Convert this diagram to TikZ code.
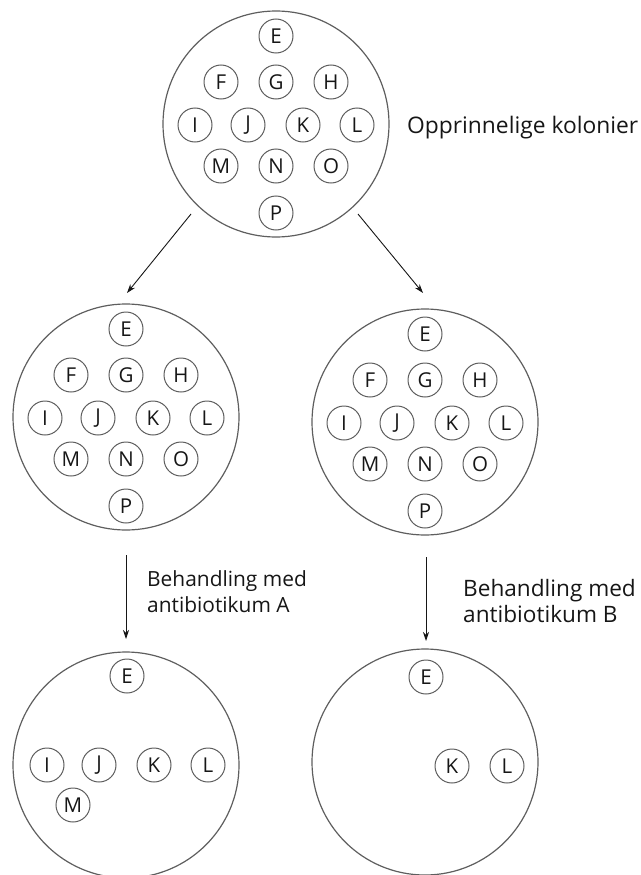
\documentclass[tikz,border=0pt]{standalone}
\usepackage{fontspec}
\setmainfont{Open Sans}
\usetikzlibrary{arrows.meta}
\definecolor{linegray}{HTML}{5E5E5E}
\definecolor{ink}{HTML}{161616}
% colony offsets from the centre of a plate (x right, y down)
\def\fullset{E/0/-88,F/-55/-42,G/0/-42,H/55/-42,I/-81/1,J/-28/1,K/27/1,L/81/1,M/-55/42,N/0/42,O/55/42,P/0/89}
\def\survivorsA{E/1/-89,I/-79/0,J/-27/0,K/28/0,L/82/0,M/-53/40}
\def\survivorsB{E/1/-85,K/27/4,L/82/4}
\begin{document}
\begin{tikzpicture}[x=1pt,y=-1pt,
  dish/.style={circle,draw=linegray,line width=1.2pt,minimum size=226pt,inner sep=0pt},
  colony/.style={circle,draw=linegray,line width=1pt,minimum size=34pt,inner sep=0pt,
    font=\fontsize{20.5}{20.5}\selectfont,text=ink},
  flow/.style={draw=ink,line width=0.9pt,-{Stealth[length=9pt,width=6pt]}},
  caption/.style={inner sep=0pt,text=ink,align=left}]
\useasboundingbox (0,0) rectangle (640,875);

% plates
\node[dish] (top) at (276,124) {};
\node[dish] (midA) at (126,417) {};
\node[dish] (midB) at (425,422) {};
\node[dish] (botA) at (126,765) {};
\node[dish] (botB) at (425,762) {};

% colonies
\foreach \l/\dx/\dy in \fullset {
  \node[colony] (top-\l) at ([shift={(\dx,\dy)}]top) {\l};
  \node[colony] (midA-\l) at ([shift={(\dx,\dy)}]midA) {\l};
  \node[colony] (midB-\l) at ([shift={(\dx,\dy)}]midB) {\l};
}
\foreach \l/\dx/\dy in \survivorsA
  \node[colony] (botA-\l) at ([shift={(\dx,\dy)}]botA) {\l};
\foreach \l/\dx/\dy in \survivorsB
  \node[colony] (botB-\l) at ([shift={(\dx,\dy)}]botB) {\l};

% arrows
\coordinate (splitA-start) at (191,214);
\coordinate (splitA-end) at (127,293);
\coordinate (splitB-start) at (358,214);
\coordinate (splitB-end) at (423,293);
\coordinate (treatA-start) at (126,555);
\coordinate (treatA-end) at (126,639);
\coordinate (treatB-start) at (426,557);
\coordinate (treatB-end) at (426,641);
\draw[flow] (splitA-start) -- (splitA-end);
\draw[flow] (splitB-start) -- (splitB-end);
\draw[flow] (treatA-start) -- (treatA-end);
\draw[flow] (treatB-start) -- (treatB-end);

% captions
\node[caption,anchor=west,font=\fontsize{22.8}{22.8}\selectfont] (origlabel) at (407,128) {Opprinnelige kolonier};
\node[caption,anchor=north west,font=\fontsize{20.9}{26.5}\selectfont] (labelA) at (147,570) {Behandling med\\antibiotikum A};
\node[caption,anchor=north west,font=\fontsize{22.6}{26.5}\selectfont] (labelB) at (463,579) {Behandling med\\antibiotikum B};
\end{tikzpicture}
\end{document}
